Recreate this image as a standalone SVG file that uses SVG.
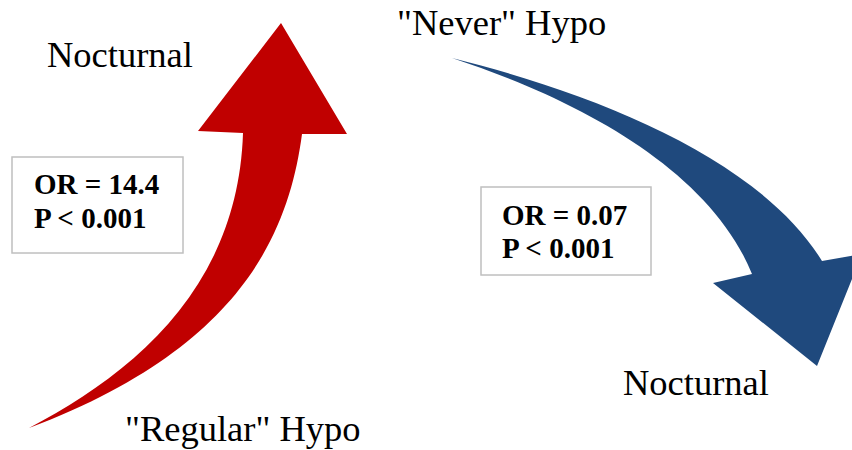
<svg xmlns="http://www.w3.org/2000/svg" width="852" height="450" viewBox="0 0 852 450">
  <style>
    .lbl { font-family: "Liberation Serif", "Times New Roman", serif; font-size: 36.5px; fill: #000; }
    .stat { font-family: "Liberation Serif", "Times New Roman", serif; font-size: 29px; font-weight: bold; fill: #000; }
    .box { fill: #fff; stroke: #BFBFBF; stroke-width: 1.5; }
  </style>
  <rect width="852" height="450" fill="#fff"/>
  <g id="connectors">
    <path id="arrow-up" fill="#C00000" d="M29,428 C130,375 238,290 243,133 L198,131 L281,23 L347,134 L302,134 C288,240 235,350 29,428 Z"/>
    <path id="arrow-down" fill="#1F497D" d="M452,58 C600,95 760,160 822,261 L862,254 L817,366 L713,283 L752,274 C710,170 580,100 452,58 Z"/>
  </g>
  <g id="node-nocturnal-top">
    <text class="lbl" x="47" y="67">Nocturnal</text>
  </g>
  <g id="node-regular-hypo">
    <text class="lbl" x="125" y="441">"Regular" Hypo</text>
  </g>
  <g id="node-never-hypo">
    <text class="lbl" x="397" y="35">"Never" Hypo</text>
  </g>
  <g id="node-nocturnal-bottom">
    <text class="lbl" x="623" y="395">Nocturnal</text>
  </g>
  <g id="node-stats-1">
    <rect class="box" x="12" y="157" width="171" height="96"/>
    <text class="stat" x="34" y="194">OR = 14.4</text>
    <text class="stat" x="34" y="228">P &lt; 0.001</text>
  </g>
  <g id="node-stats-2">
    <rect class="box" x="481" y="187" width="170" height="88"/>
    <text class="stat" x="502" y="225">OR = 0.07</text>
    <text class="stat" x="502" y="258">P &lt; 0.001</text>
  </g>
</svg>
